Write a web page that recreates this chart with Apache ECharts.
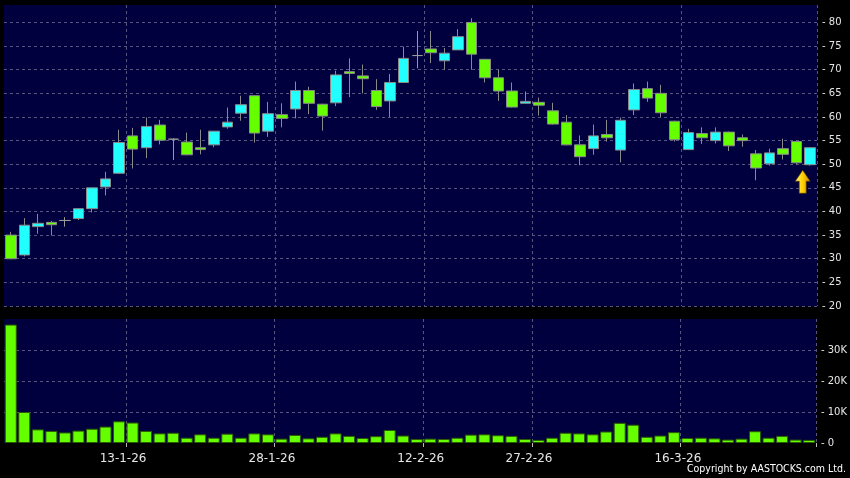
<!DOCTYPE html>
<html>
<head>
<meta charset="utf-8">
<script src="https://cdn.jsdelivr.net/npm/echarts@6/dist/echarts.min.js"></script>
<style>
html,body{margin:0;padding:0;background:#000;}
#c{width:850px;height:478px;}
</style>
</head>
<body>
<div id="c"></div>
<script>
// ---- data ----
const dates = ['30-12-25','31-12-25','2-1-26','5-1-26','6-1-26','7-1-26','8-1-26','9-1-26','12-1-26','13-1-26',
  '14-1-26','15-1-26','16-1-26','19-1-26','20-1-26','21-1-26','22-1-26','23-1-26','26-1-26','27-1-26',
  '28-1-26','29-1-26','30-1-26','2-2-26','3-2-26','4-2-26','5-2-26','6-2-26','9-2-26','10-2-26',
  '11-2-26','12-2-26','13-2-26','16-2-26','20-2-26','23-2-26','24-2-26','25-2-26','26-2-26','27-2-26',
  '2-3-26','3-3-26','4-3-26','5-3-26','6-3-26','9-3-26','10-3-26','11-3-26','12-3-26','13-3-26',
  '16-3-26','17-3-26','18-3-26','19-3-26','20-3-26','23-3-26','24-3-26','25-3-26','26-3-26','27-3-26'];
const openP  = [35.0,30.8,36.8,37.7,38.1,38.5,40.6,45.2,48.1,56.0, 53.5,58.3,55.3,54.7,53.5,54.1,57.9,60.8,64.5,57.0,
  60.5,61.7,65.6,62.7,63.0,69.6,68.7,65.6,63.4,67.3, 73.0,74.4,71.9,74.2,80.0,72.2,68.3,65.5,62.9,63.1,
  61.3,58.9,54.1,53.3,56.3,53.0,61.5,66.0,65.0,59.1, 53.1,56.5,55.0,56.8,55.6,52.2,50.1,53.3,54.8,49.9];
const closeP = [30.0,37.1,37.5,37.2,38.1,40.6,45.0,46.9,54.6,53.2, 58.0,55.1,55.3,52.0,53.1,57.0,58.9,62.6,56.6,60.7,
  59.7,65.6,62.9,60.2,68.9,69.2,68.1,62.2,67.3,72.4, 73.0,73.6,73.5,77.0,73.3,68.3,65.5,62.1,63.3,62.5,
  58.5,54.1,51.6,56.0,55.6,59.3,65.8,64.0,60.9,55.2, 56.7,55.6,56.8,53.9,55.0,49.2,52.4,52.1,50.3,53.5];
const lowP   = [29.9,30.5,35.3,34.9,36.8,38.2,39.8,43.4,48.0,49.1, 51.3,54.2,50.9,51.9,52.1,53.6,57.5,59.2,54.6,55.8,
  57.8,59.7,60.6,57.1,62.3,64.2,65.0,61.5,60.0,67.2, 70.3,71.4,70.0,74.2,70.0,67.3,63.4,62.0,62.8,60.3,
  58.4,54.0,49.8,52.0,54.8,50.4,60.4,63.2,60.0,54.8, 53.0,54.3,54.4,52.8,53.7,46.6,49.7,51.0,50.0,49.7];
const highP  = [35.7,38.6,39.5,38.0,38.8,40.7,45.1,48.4,57.3,57.7, 59.9,59.4,55.5,56.7,57.3,57.0,62.0,64.5,64.6,63.2,
  62.9,67.5,66.4,62.8,69.8,72.4,71.1,68.0,69.1,74.9, 78.2,78.2,74.6,78.6,80.9,72.3,70.0,67.3,65.4,64.1,
  63.0,60.4,56.1,58.4,59.4,59.9,67.1,67.5,66.8,59.2, 57.5,57.8,57.8,56.9,56.3,53.0,53.3,55.4,54.9,53.6];
const volume = [38200,10000,4400,3900,3400,4000,4600,5300,7000,6600, 3900,3100,3300,1700,2800,1700,3000,1700,3100,2800,
  1400,2600,1500,2000,3100,2300,1600,2200,4200,2400, 1300,1400,1300,1700,2700,2800,2500,2300,1300,1000,
  1700,3300,3100,2800,3700,6500,5900,2000,2400,3500, 1600,1700,1500,1100,1400,3800,1700,2300,1100,1000];
const dateTicks = ['13-1-26','28-1-26','12-2-26','27-2-26','16-3-26'];
const priceTicks = [20,25,30,35,40,45,50,55,60,65,70,75,80];
const volumeTicks = [0,10000,20000,30000];
const signalArrow = ['27-3-26', 46.3];
const copyright = 'Copyright by AASTOCKS.com Ltd.';

// ---- chart ----
const candles = dates.map((d,i)=>[openP[i], closeP[i], lowP[i], highP[i]]);
const isTick = (idx, val) => dateTicks.indexOf(val) >= 0;
const gridLine = {show:true, lineStyle:{color:'#55557f', type:[3,3], width:1}};
const navy = '#00003e';
const chart = echarts.init(document.getElementById('c'), null, {renderer:'canvas'});
chart.setOption({
  animation:false,
  backgroundColor:'#000000',
  title:{text:copyright, right:4, top:464, padding:0,
    textStyle:{color:'#ffffff', fontSize:10.5, fontWeight:'normal', fontFamily:'DejaVu Sans Condensed'}},
  grid:[
    {left:4, right:33, top:5, height:301, show:true, backgroundColor:navy, borderWidth:0},
    {left:4, right:33, top:319, height:124, show:true, backgroundColor:navy, borderWidth:0}
  ],
  xAxis:[
    {type:'category', gridIndex:0, data:dates, boundaryGap:true,
      axisLine:{show:false}, axisTick:{show:false}, axisLabel:{show:false},
      splitLine:Object.assign({interval:isTick}, gridLine)},
    {type:'category', gridIndex:1, data:dates, boundaryGap:true,
      axisLine:{show:false},
      axisTick:{show:true, interval:isTick, length:4, lineStyle:{color:'#bbbbbb'}},
      axisLabel:{interval:isTick, color:'#e6e6e6', fontSize:12, fontFamily:'DejaVu Sans', margin:10,
        padding:[0,19,0,0]},
      splitLine:Object.assign({interval:isTick}, gridLine)}
  ],
  yAxis:[
    {type:'value', gridIndex:0, position:'right', min:20, max:83.7, interval:5,
      axisLine:{show:false}, axisTick:{show:false},
      axisLabel:{color:'#e6e6e6', fontSize:10, fontFamily:'DejaVu Sans', margin:5,
        formatter:v => priceTicks.indexOf(Math.round(v*10)/10) >= 0 ? '- ' + v : ''},
      splitLine:Object.assign({showMinLine:true, showMaxLine:false}, gridLine)},
    {type:'value', gridIndex:1, position:'right', min:0, max:40000, interval:10000,
      axisLine:{show:false}, axisTick:{show:false},
      axisLabel:{color:'#e6e6e6', fontSize:10, fontFamily:'DejaVu Sans', margin:5, showMaxLabel:false,
        formatter:v => volumeTicks.indexOf(v) < 0 ? '' : '- ' + (v === 0 ? '0' : (v/1000) + 'K')},
      splitLine:Object.assign({showMinLine:false, showMaxLine:false}, gridLine)}
  ],
  series:[
    {type:'candlestick', xAxisIndex:0, yAxisIndex:0, data:candles, barWidth:11,
      itemStyle:{color:'#22ffff', color0:'#66ff00', borderColor:'#8a8a8a', borderColor0:'#8a8a8a',
        borderColorDoji:'#9a9a9a', borderWidth:1},
      markPoint:{
        symbol:'path://M7.5,0 L15,11 L11,11 L11,23 L4,23 L4,11 L0,11 Z',
        symbolSize:[15,23], symbolOffset:[-7.5,0], label:{show:false},
        itemStyle:{color:new echarts.graphic.LinearGradient(0,0,1,0,[
          {offset:0,color:'#fff27a'},{offset:0.5,color:'#ffd000'},{offset:1,color:'#c88a00'}]),
          borderColor:'#5a3a00', borderWidth:0.6},
        data:[{coord:signalArrow}]
      }},
    {type:'bar', xAxisIndex:1, yAxisIndex:1, data:volume, barWidth:12,
      itemStyle:{color:'#66ff00', borderColor:'#2a5a00', borderWidth:1}}
  ]
});
</script>
</body>
</html>
